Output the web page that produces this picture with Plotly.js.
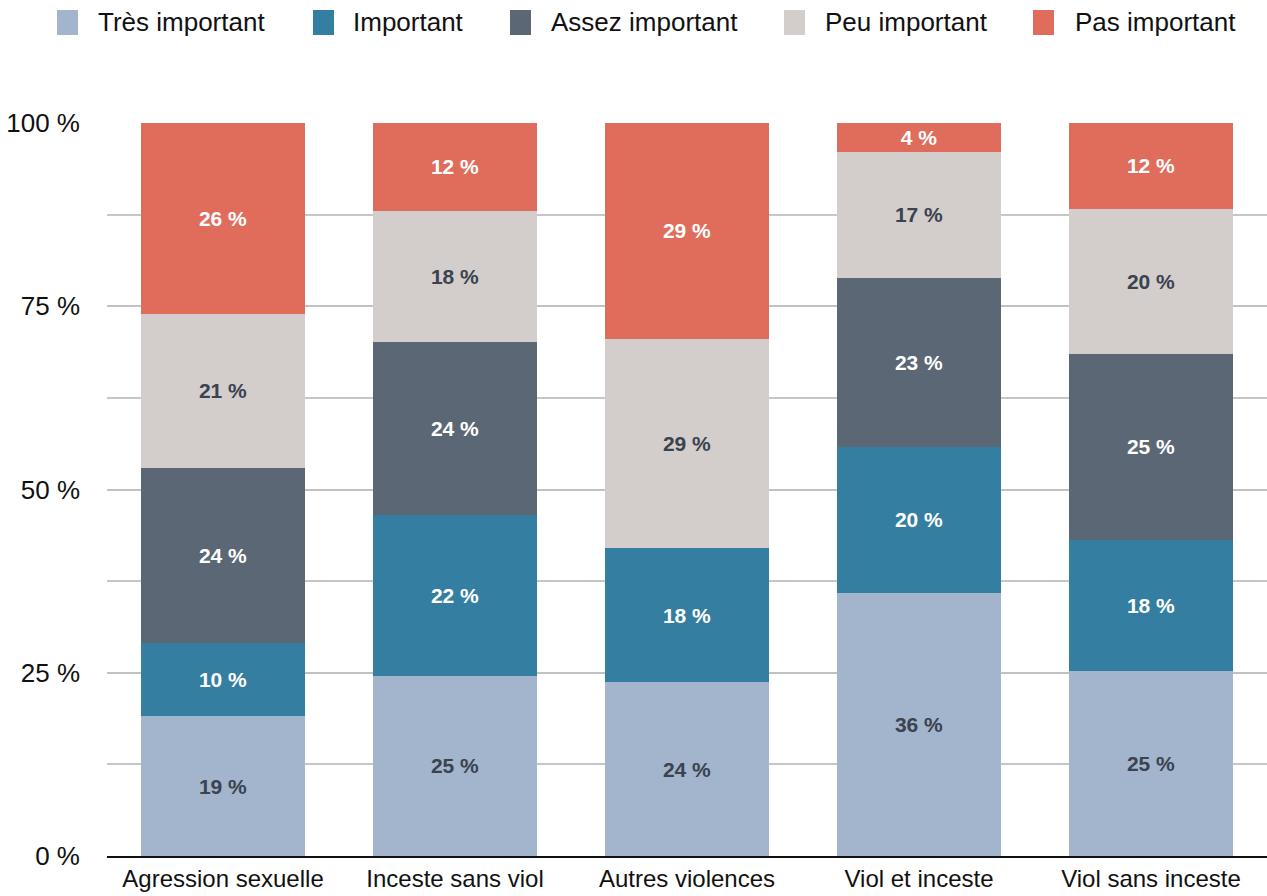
<!DOCTYPE html>
<html>
<head>
<meta charset="utf-8">
<script src="https://cdn.plot.ly/plotly-3.0.1.min.js"></script>
<style>html,body{margin:0;padding:0;background:#fff}#chart{width:1267px;height:896px}</style>
</head>
<body>
<div id="chart"></div>
<script>
const categories = ["Agression sexuelle", "Inceste sans viol", "Autres violences", "Viol et inceste", "Viol sans inceste"];
const seriesNames = ["Très important", "Important", "Assez important", "Peu important", "Pas important"];
const tresImportant  = [19.1, 24.6, 23.7, 35.9, 25.2];
const important      = [10.0, 21.9, 18.3, 19.9, 17.9];
const assezImportant = [23.9, 23.6, null, 23.1, 25.4];
const peuImportant   = [21.0, 17.9, 28.6, 17.1, 19.8];
const pasImportant   = [26.0, 12.0, 29.4, 4.0, 11.7];
const yTickVals = [0, 25, 50, 75, 100];
const yTickText = ["0 %", "25 %", "50 %", "75 %", "100 %"];

const seriesValues = [tresImportant, important, assezImportant, peuImportant, pasImportant];
const colors = ["#a2b5cc", "#347ea1", "#5c6775", "#d3cecb", "#e06d5c"];
const textColors = ["#3b4250", "#ffffff", "#ffffff", "#3b4250", "#ffffff"];
const FONT = "'Liberation Sans', Arial, sans-serif";

const traces = seriesValues.map((vals, i) => ({
  type: "bar",
  name: seriesNames[i],
  x: categories,
  y: vals,
  marker: {color: colors[i], line: {width: 0}},
  text: vals.map(v => (v === null ? "" : Math.round(v) + " %")),
  textposition: "inside",
  insidetextanchor: "middle",
  textfont: {family: FONT, size: 21, color: textColors[i], weight: "bold"},
  hoverinfo: "skip",
  showlegend: false
}));

const L = 107, T = 123, W = 1160, H = 733;
const px = x => (x - L) / W;
const py = y => (T + H - y) / H;

const legendSwatchX = [57, 313, 510, 784, 1033];
const legendTextX = [96, 351, 549, 823, 1073];
const shapes = [];
const annotations = [];
seriesNames.forEach((n, i) => {
  shapes.push({type: "rect", xref: "paper", yref: "paper",
    x0: px(legendSwatchX[i]), x1: px(legendSwatchX[i] + 21),
    y0: py(35), y1: py(10), fillcolor: colors[i], line: {width: 0}});
  annotations.push({xref: "paper", yref: "paper", x: px(legendTextX[i]), y: py(22),
    xanchor: "left", yanchor: "middle", text: n, showarrow: false,
    font: {family: FONT, size: 26, color: "#111"}});
});

const layout = {
  width: 1267, height: 896,
  margin: {l: L, r: 0, t: T, b: 896 - T - H},
  paper_bgcolor: "#fff", plot_bgcolor: "#fff",
  barmode: "stack",
  bargap: 0.29,
  font: {family: FONT, color: "#111"},
  uniformtext: {mode: "show", minsize: 21},
  xaxis: {showgrid: false, showline: true, linecolor: "#111", linewidth: 2,
    ticks: "", tickfont: {size: 24, color: "#111"}, fixedrange: true},
  yaxis: {range: [0, 100], tickvals: yTickVals, ticktext: yTickText,
    showgrid: true, gridcolor: "#c2c2c2", gridwidth: 2, zeroline: false,
    minor: {dtick: 12.5, showgrid: true, gridcolor: "#c6c6c6", gridwidth: 2, ticks: ""},
    ticks: "", ticklen: 0, ticklabelstandoff: 26,
    tickfont: {size: 26, color: "#111"}, fixedrange: true},
  shapes: shapes,
  annotations: annotations,
  showlegend: false
};

Plotly.newPlot("chart", traces, layout, {displayModeBar: false, staticPlot: true});
</script>
</body>
</html>
